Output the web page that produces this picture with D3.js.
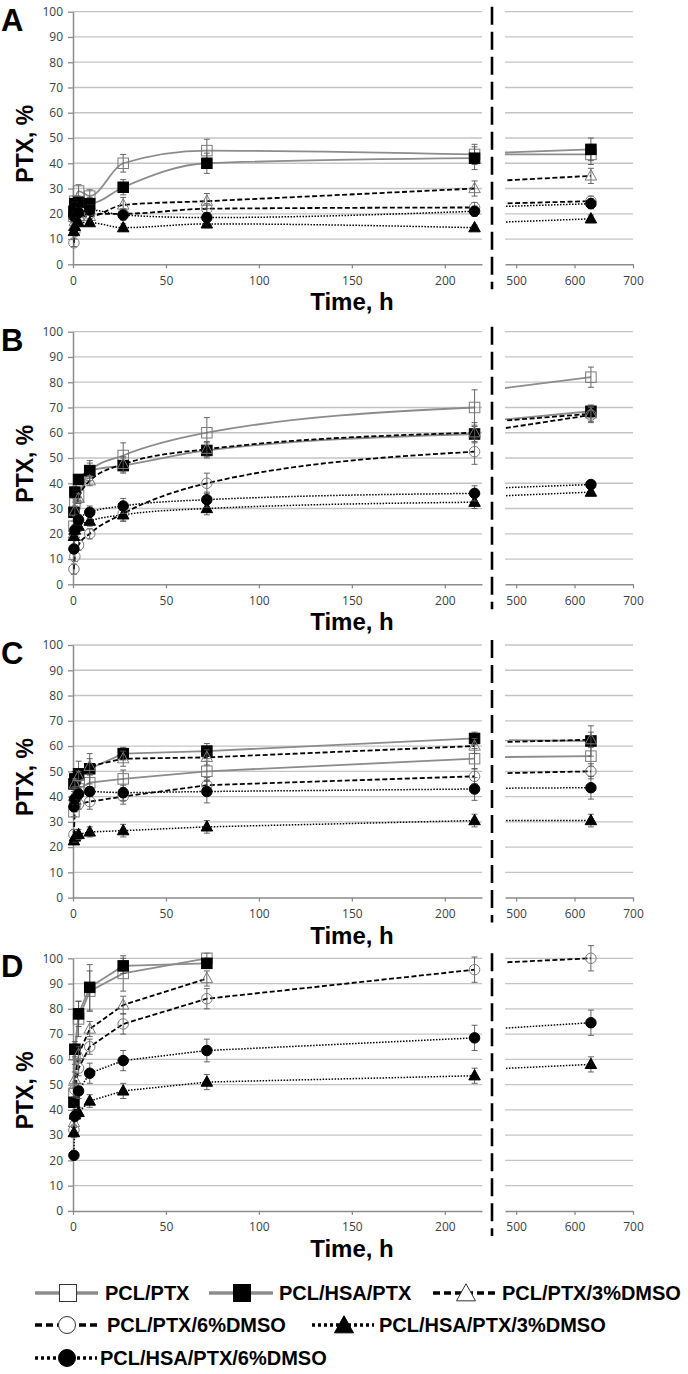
<!DOCTYPE html>
<html>
<head>
<meta charset="utf-8">
<script src="https://cdn.jsdelivr.net/npm/d3@7"></script>
<style>
  html, body { margin: 0; padding: 0; background: #fff; }
  svg { display: block; }
</style>
</head>
<body>
<svg id="chart" width="688" height="1374"></svg>
<script>
// ---------------- DATA ----------------
const times = [0.5, 1, 3, 9, 27, 72, 216, 628];
const seriesNames = ["PCL/PTX", "PCL/HSA/PTX", "PCL/PTX/3%DMSO", "PCL/PTX/6%DMSO", "PCL/HSA/PTX/3%DMSO", "PCL/HSA/PTX/6%DMSO"];
const panelLabels = ["A", "B", "C", "D"];
const yTickValues = [0, 10, 20, 30, 40, 50, 60, 70, 80, 90, 100];
const xTicksLeft = [0, 50, 100, 150, 200];
const xTicksRight = [500, 600, 700];
const yLabel = "PTX, %";
const xLabel = "Time, h";

// series order follows seriesNames; values in %
const panelA_values = [
  [19, 25, 29, 27, 40, 45, 43.5, 43.5],
  [21, 24, 24.5, 24, 30.5, 40, 42, 45.5],
  [15, 17, 19, 19, 23.5, 25, 30, 35],
  [8.5, 13, 18, 20, 20, 22, 22.5, 25],
  [13, 15, 16.5, 16.5, 14.5, 16, 14.5, 18],
  [19, 22.5, 20.5, 21.5, 19.5, 18.5, 21, 24]
];
const panelA_errors = [
  [2, 2, 2.5, 2.5, 3.5, 4.5, 4, 4],
  [2, 2, 2, 2.5, 3, 4, 4.5, 4.5],
  [1.5, 2, 2, 2, 3, 3, 3, 3],
  [1.5, 1.5, 2, 2, 2, 2, 2, 2],
  [1, 1, 1, 1, 1.5, 1.5, 1, 1.5],
  [1.5, 2, 2, 2, 2, 2, 2, 2]
];
const panelB_values = [
  [23, 32, 35, 45, 51, 60, 70, 82],
  [28.5, 36.5, 41.5, 45, 47, 53, 59.5, 68.5],
  [20, 29, 34, 41, 47.5, 53.5, 60, 67.5],
  [6, 11, 15.5, 20, 28, 40, 52.5, 67],
  [19, 21.5, 23, 25, 27.5, 30, 32.5, 36.5],
  [14, 21.5, 25.5, 28.5, 31, 33.5, 36, 39.5]
];
const panelB_errors = [
  [2, 2, 2, 4, 5, 6, 7, 4],
  [2, 2, 2, 3, 3, 3, 3, 2.5],
  [2, 2, 2, 2, 3, 3, 4, 3],
  [2, 2, 2, 2, 3, 4, 5, 3],
  [1.5, 1.5, 2, 2, 2.5, 2.5, 2.5, 1.5],
  [1.5, 2, 2, 2.5, 3, 3, 3, 1.5]
];
const panelC_values = [
  [34, 38, 43, 45.5, 47, 50, 55, 56],
  [45, 47, 49, 51, 57, 58, 63, 62],
  [40, 45, 48, 52, 55, 55.5, 60, 62.5],
  [25, 36, 37, 38, 40, 44.5, 48, 50],
  [22.5, 24, 25, 26, 26.5, 28, 30.5, 30.5],
  [36, 39, 41, 42, 41.5, 42, 43, 43.5]
];
const panelC_errors = [
  [2, 2, 2.5, 3, 3.5, 4, 4, 4],
  [2, 3, 5, 6, 2.5, 3, 2.5, 6],
  [2, 2, 2, 3, 3, 3, 3, 3],
  [2, 2, 2, 3, 3, 3, 3, 3],
  [1.5, 2, 2, 2, 2.5, 2.5, 2.5, 2.5],
  [2, 2, 2, 2, 3, 4.5, 4.5, 4.5]
];
const panelD_values = [
  [46.5, 62, 76, 87, 94, 100, null, null],
  [43, 64, 78, 88.5, 97, 98, null, null],
  [35, 52, 62, 72, 81.5, 92, null, null],
  [32, 48, 56.5, 65, 74, 84, 95.5, 100],
  [31, 38, 39, 43.5, 47.5, 51, 53.5, 58],
  [22, 37.5, 47.5, 54.5, 59.5, 63.5, 68.5, 74.5]
];
const panelD_errors = [
  [2, 4, 7, 8, 7, 2, 0, 0],
  [2, 3, 5, 9, 3, 2, 0, 0],
  [2, 3, 3, 3, 3.5, 3, 0, 0],
  [2, 3, 3, 3, 4, 4, 5, 5],
  [2, 2, 2, 2.5, 3, 3, 3, 3],
  [1.5, 2, 3, 4, 4, 4.5, 5, 5]
];

// ---------------- STYLE / LAYOUT ----------------
const panels = [
  { label: panelLabels[0], values: panelA_values, errors: panelA_errors, top: 11.7, smooth: true },
  { label: panelLabels[1], values: panelB_values, errors: panelB_errors, top: 331.7, smooth: true },
  { label: panelLabels[2], values: panelC_values, errors: panelC_errors, top: 645, smooth: false },
  { label: panelLabels[3], values: panelD_values, errors: panelD_errors, top: 958.3, smooth: false }
];
const plotH = 252.6;
const styles = [
  { line: "gray", marker: "square", filled: false },
  { line: "gray", marker: "square", filled: true },
  { line: "dash", marker: "triangle", filled: false },
  { line: "dash", marker: "circle", filled: false },
  { line: "dot", marker: "triangle", filled: true },
  { line: "dot", marker: "circle", filled: true }
];
const lineStyle = {
  gray: { stroke: "#8c8c8c", width: 1.8, dash: null },
  dash: { stroke: "#000", width: 1.8, dash: "5,2.5" },
  dot:  { stroke: "#000", width: 1.5, dash: "1.5,1.5" }
};

const svg = d3.select("#chart");
const xL = d3.scaleLinear().domain([0, 220]).range([73, 482]);
const xR = d3.scaleLinear().domain([481, 700]).range([505, 633]);
const gridColor = "#c4c4c4";
const axisColor = "#8c8c8c";
const tickFont = "'Open Sans', sans-serif";
const boldFont = "'Liberation Sans', Arial, sans-serif";

const defs = svg.append("defs");
defs.append("clipPath").attr("id", "clipL").append("rect")
  .attr("x", 73).attr("y", 0).attr("width", 482 - 73).attr("height", 1374);
defs.append("clipPath").attr("id", "clipR").append("rect")
  .attr("x", 505).attr("y", 0).attr("width", 633 - 505).attr("height", 1374);

function drawMarker(g, type, filled, x, y, s, strokeCol, sw) {
  let el;
  if (type === "square") {
    el = g.append("rect").attr("x", x - s / 2).attr("y", y - s / 2).attr("width", s).attr("height", s);
  } else if (type === "circle") {
    el = g.append("circle").attr("cx", x).attr("cy", y).attr("r", s / 2);
  } else {
    const h = s * 0.9;
    el = g.append("path").attr("d",
      `M${x},${y - h * 0.6}L${x + s / 2},${y + h * 0.4}L${x - s / 2},${y + h * 0.4}Z`);
  }
  el.attr("fill", filled ? "#000" : "none")
    .attr("stroke", filled ? "#000" : strokeCol)
    .attr("stroke-width", sw);
  return el;
}

panels.forEach(p => {
  const y0 = p.top + plotH;
  const y = d3.scaleLinear().domain([0, 100]).range([y0, p.top]);
  const g = svg.append("g");

  // gridlines
  yTickValues.filter(v => v > 0).forEach(v => {
    g.append("line").attr("x1", 73).attr("x2", 482).attr("y1", y(v)).attr("y2", y(v))
      .attr("stroke", gridColor).attr("stroke-width", 1.3);
    g.append("line").attr("x1", 505).attr("x2", 633).attr("y1", y(v)).attr("y2", y(v))
      .attr("stroke", gridColor).attr("stroke-width", 1.3);
  });

  // y axis
  const ya = g.append("g").attr("transform", "translate(73,0)")
    .call(d3.axisLeft(y).tickValues(yTickValues).tickSize(5).tickSizeOuter(0).tickPadding(5));
  // bottom axes
  const xa = g.append("g").attr("transform", `translate(0,${y0})`)
    .call(d3.axisBottom(xL).tickValues(xTicksLeft).tickSize(4).tickSizeOuter(0).tickPadding(8));
  const xr = g.append("g").attr("transform", `translate(0,${y0})`)
    .call(d3.axisBottom(xR).tickValues(xTicksRight).tickSize(4).tickSizeOuter(0).tickPadding(8));
  [ya, xa, xr].forEach(a => {
    a.select(".domain").attr("stroke", axisColor).attr("stroke-width", 1.5);
    a.selectAll(".tick line").attr("stroke", axisColor).attr("stroke-width", 1.3);
    a.selectAll(".tick text").attr("fill", "#404040").style("font-family", tickFont).style("font-size", "12px");
  });

  // break line
  g.append("line").attr("x1", 492).attr("x2", 492).attr("y1", p.top - 5).attr("y2", y0 + 25)
    .attr("stroke", "#000").attr("stroke-width", 2.6).attr("stroke-dasharray", "18,7");

  // panel letter
  g.append("text").attr("x", 1).attr("y", p.top + 19).text(p.label)
    .style("font-family", boldFont).style("font-weight", "bold").style("font-size", "31px");
  // y label
  g.append("text").attr("transform", `translate(33,${p.top + 132}) rotate(-90)`)
    .attr("text-anchor", "middle").text(yLabel)
    .style("font-family", boldFont).style("font-weight", "bold").style("font-size", "23px");
  // x label
  g.append("text").attr("x", 352).attr("y", y0 + 46).attr("text-anchor", "middle").text(xLabel)
    .style("font-family", boldFont).style("font-weight", "bold").style("font-size", "24px");

  // lines
  const gl = g.append("g").attr("clip-path", "url(#clipL)");
  const gr = g.append("g").attr("clip-path", "url(#clipR)");
  p.values.forEach((vals, si) => {
    const st = lineStyle[styles[si].line];
    const ptsL = times.map((t, i) => [t, vals[i]]).filter(d => d[1] != null && d[0] <= 220);
    const lineL = d3.line().x(d => xL(d[0])).y(d => y(d[1]))
      .curve(p.smooth ? d3.curveMonotoneX : d3.curveLinear);
    gl.append("path").attr("d", lineL(ptsL)).attr("fill", "none")
      .attr("stroke", st.stroke).attr("stroke-width", st.width)
      .attr("stroke-dasharray", st.dash);
    const n = times.length;
    if (vals[n - 1] != null && vals[n - 2] != null) {
      const ptsR = [[times[n - 2], vals[n - 2]], [times[n - 1], vals[n - 1]]];
      const lineR = d3.line().x(d => xR(d[0])).y(d => y(d[1]));
      gr.append("path").attr("d", lineR(ptsR)).attr("fill", "none")
        .attr("stroke", st.stroke).attr("stroke-width", st.width)
        .attr("stroke-dasharray", st.dash);
    }
  });

  // error bars + markers
  p.values.forEach((vals, si) => {
    const errs = p.errors[si];
    const sty = styles[si];
    vals.forEach((v, i) => {
      if (v == null) return;
      const t = times[i];
      const cx = t <= 220 ? xL(t) : xR(t);
      const e = errs[i];
      if (e > 0) {
        const eb = g.append("g").attr("stroke", "#555").attr("stroke-width", 0.9);
        eb.append("line").attr("x1", cx).attr("x2", cx).attr("y1", y(v - e)).attr("y2", y(v + e));
        eb.append("line").attr("x1", cx - 3).attr("x2", cx + 3).attr("y1", y(v - e)).attr("y2", y(v - e));
        eb.append("line").attr("x1", cx - 3).attr("x2", cx + 3).attr("y1", y(v + e)).attr("y2", y(v + e));
      }
      const size = sty.marker === "triangle" ? 11.5 : 10.5;
      drawMarker(g, sty.marker, sty.filled, cx, y(v), size, "#7a7a7a", 1);
    });
  });
});

// ---------------- LEGEND ----------------
const legendItems = [
  { si: 0, y: 1293, x1: 35, x2: 98, mx: 68, tx: 105 },
  { si: 1, y: 1293, x1: 209, x2: 273, mx: 242, tx: 279 },
  { si: 2, y: 1293, x1: 433, x2: 497, mx: 466, tx: 502 },
  { si: 3, y: 1325, x1: 35, x2: 100, mx: 67, tx: 107 },
  { si: 4, y: 1325, x1: 312, x2: 374, mx: 344, tx: 379 },
  { si: 5, y: 1358, x1: 35, x2: 97, mx: 67, tx: 100 }
];
const legLine = {
  gray: { stroke: "#8c8c8c", width: 3.5, dash: null },
  dash: { stroke: "#000", width: 3.5, dash: "7,4" },
  dot:  { stroke: "#000", width: 3.5, dash: "3,3" }
};
const lg = svg.append("g");
legendItems.forEach(it => {
  const sty = styles[it.si];
  const ls = legLine[sty.line];
  lg.append("line").attr("x1", it.x1).attr("x2", it.x2).attr("y1", it.y).attr("y2", it.y)
    .attr("stroke", ls.stroke).attr("stroke-width", ls.width).attr("stroke-dasharray", ls.dash);
  const m = drawMarker(lg, sty.marker, sty.filled, it.mx, it.y + (sty.marker === "triangle" ? 1 : 0),
    sty.marker === "triangle" ? 19 : 17, "#333", 1);
  if (!sty.filled) m.attr("fill", "#fff");
  lg.append("text").attr("x", it.tx).attr("y", it.y + 7).text(seriesNames[it.si])
    .style("font-family", boldFont).style("font-weight", "bold").style("font-size", "20px");
});
</script>
</body>
</html>
